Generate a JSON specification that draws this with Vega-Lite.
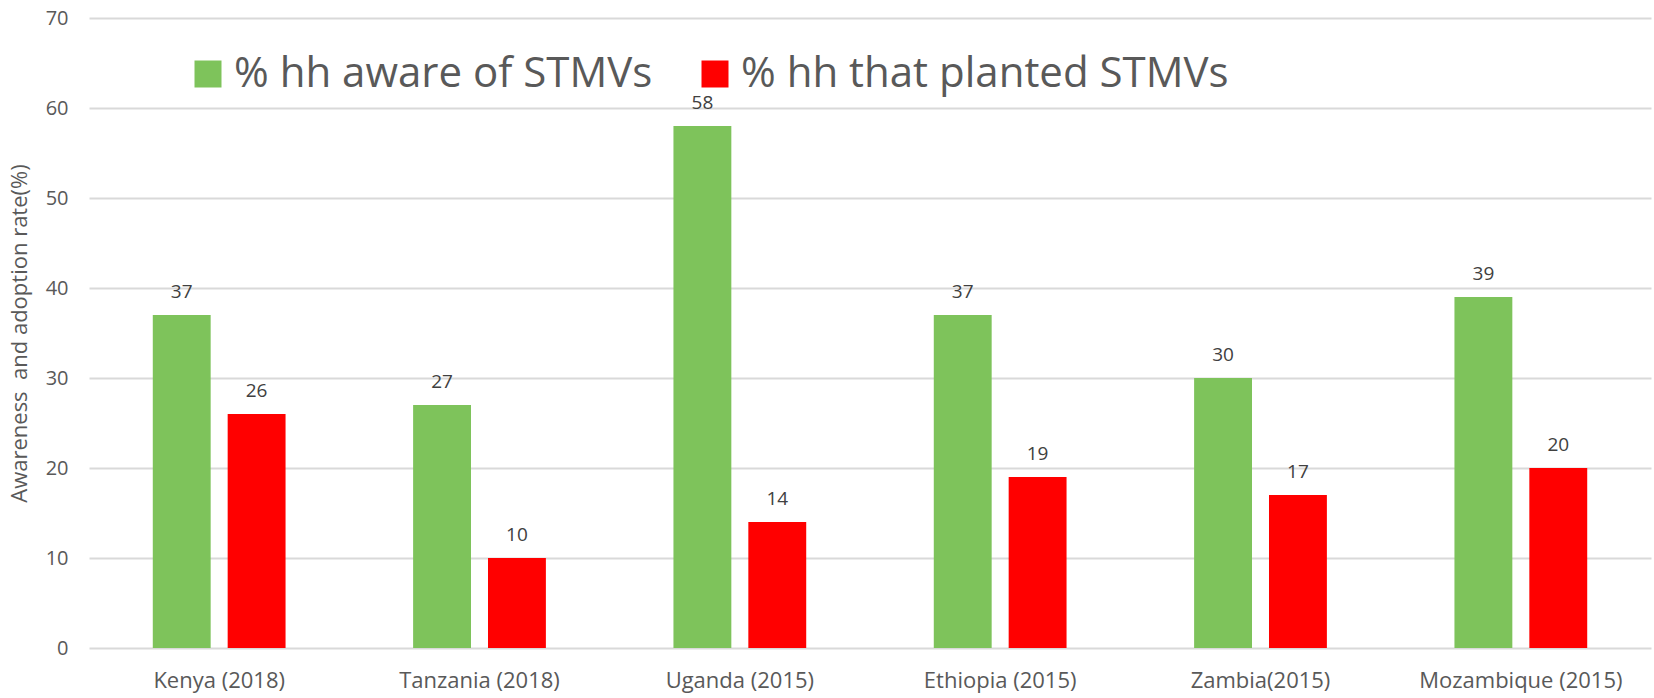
{
  "$schema": "https://vega.github.io/schema/vega-lite/v6.json",
  "width": 1562,
  "height": 630,
  "autosize": {"type": "none"},
  "padding": {"left": 89, "top": 18, "right": 3, "bottom": 50},
  "config": {"view": {"stroke": null}, "font": "Open Sans"},
  "data": {
    "values": [
      {"country": "Kenya (2018)", "series": "% hh aware of STMVs", "value": 37},
      {"country": "Kenya (2018)", "series": "% hh that planted STMVs", "value": 26},
      {"country": "Tanzania (2018)", "series": "% hh aware of STMVs", "value": 27},
      {"country": "Tanzania (2018)", "series": "% hh that planted STMVs", "value": 10},
      {"country": "Uganda (2015)", "series": "% hh aware of STMVs", "value": 58},
      {"country": "Uganda (2015)", "series": "% hh that planted STMVs", "value": 14},
      {"country": "Ethiopia (2015)", "series": "% hh aware of STMVs", "value": 37},
      {"country": "Ethiopia (2015)", "series": "% hh that planted STMVs", "value": 19},
      {"country": "Zambia(2015)", "series": "% hh aware of STMVs", "value": 30},
      {"country": "Zambia(2015)", "series": "% hh that planted STMVs", "value": 17},
      {"country": "Mozambique (2015)", "series": "% hh aware of STMVs", "value": 39},
      {"country": "Mozambique (2015)", "series": "% hh that planted STMVs", "value": 20}
    ]
  },
  "encoding": {
    "x": {
      "field": "country", "type": "nominal", "sort": null,
      "scale": {"paddingInner": 0.49, "paddingOuter": 0.245},
      "axis": {"title": null, "labelAngle": 0, "labelFontSize": 22, "labelColor": "#595959", "labelLimit": 0, "labelOverlap": false, "ticks": false, "domain": false, "labelPadding": 22, "grid": false}
    },
    "xOffset": {"field": "series", "type": "nominal", "sort": null, "scale": {"paddingInner": 0.227}},
    "y": {
      "field": "value", "type": "quantitative",
      "scale": {"domain": [0, 70]},
      "axis": {
        "values": [0, 10, 20, 30, 40, 50, 60, 70],
        "title": "Awareness\u00a0 and adoption rate(%)",
        "titleFontSize": 22, "titleFontWeight": "normal", "titleColor": "#595959",
        "titleAngle": -90, "titleX": -70, "titleY": 315, "titleAlign": "center", "titleBaseline": "middle",
        "labelFontSize": 20, "labelColor": "#595959", "labelPadding": 21,
        "ticks": false, "domain": false,
        "grid": true, "gridColor": "#D9D9D9", "gridWidth": 2
      }
    }
  },
  "layer": [
    {
      "mark": {"type": "bar"},
      "encoding": {
        "color": {
          "field": "series", "type": "nominal", "sort": null,
          "scale": {"domain": ["% hh aware of STMVs", "% hh that planted STMVs"], "range": ["#7EC35B", "#FF0000"]},
          "legend": {
            "orient": "none", "legendX": 98, "legendY": 35, "direction": "horizontal",
            "title": null, "symbolType": "square", "symbolSize": 729, "symbolStrokeWidth": 0,
            "labelFontSize": 42, "labelColor": "#595959", "labelOffset": 5,
            "columnPadding": 41, "labelLimit": 0, "padding": 0
          }
        }
      }
    },
    {
      "mark": {"type": "text", "baseline": "alphabetic", "dy": -17, "fontSize": 19, "color": "#404040"},
      "encoding": {"text": {"field": "value", "type": "quantitative"}}
    }
  ]
}
